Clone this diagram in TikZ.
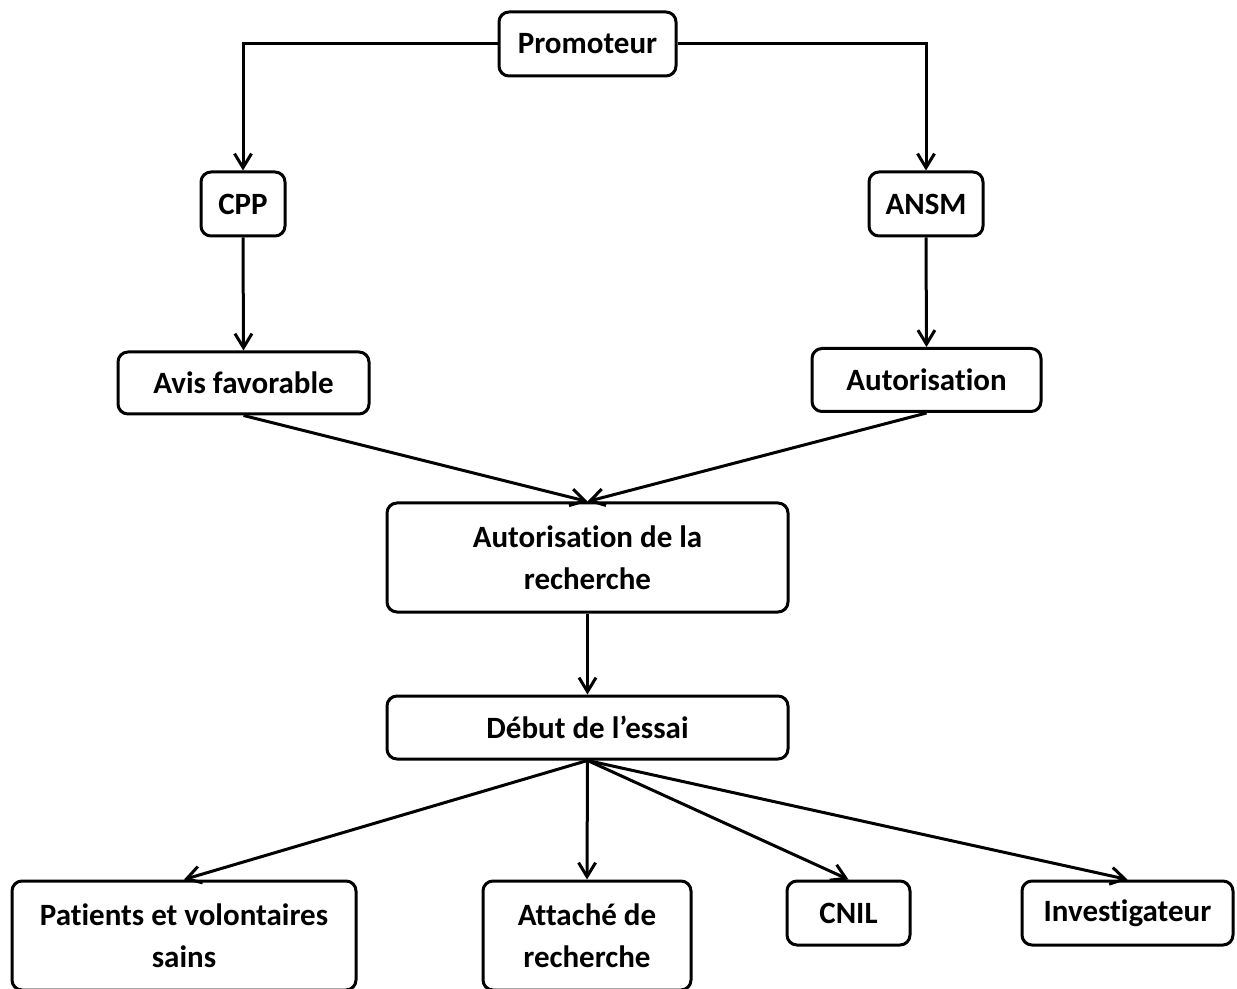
\documentclass[tikz,border=0pt]{standalone}
\usepackage{fontspec}
\setmainfont{Carlito}[Ligatures={NoCommon}]
\usetikzlibrary{arrows.meta}
\begin{document}
\begin{tikzpicture}[x=0.5pt,y=-0.5pt,
  box/.style={draw, line width=1.5pt, rounded corners=5pt, align=center,
    font=\fontsize{15.5}{21}\selectfont\bfseries, inner sep=0pt},
  arr/.style={line width=1.5pt, -{Straight Barb[length=7pt,width=8.5pt,line width=1.5pt]}}]
\useasboundingbox (0,0) rectangle (1237,989);
\node[box, minimum width=88.5pt, minimum height=32pt] (prom) at (587.5,44) {Promoteur};
\node[box, minimum width=42pt, minimum height=32pt] (cpp) at (243,204) {CPP};
\node[box, minimum width=57pt, minimum height=32pt] (ansm) at (926,204) {ANSM};
\node[box, minimum width=125.5pt, minimum height=31pt] (avis) at (243.5,383) {Avis favorable};
\node[box, minimum width=114.5pt, minimum height=31.5pt] (auto) at (926.5,380) {Autorisation};
\node[box, minimum width=200.5pt, minimum height=54.5pt] (rech) at (587.5,557.5) {Autorisation de la\\recherche};
\node[box, minimum width=200.5pt, minimum height=31.5pt] (deb) at (587.5,727.5) {Début de l’essai};
\node[box, minimum width=172pt, minimum height=54.5pt] (pat) at (184,935.5) {Patients et volontaires\\sains};
\node[box, minimum width=104pt, minimum height=54.5pt] (att) at (587,935.5) {Attaché de\\recherche};
\node[box, minimum width=61.5pt, minimum height=32pt] (cnil) at (848.5,913) {CNIL};
\node[box, minimum width=105.5pt, minimum height=32pt] (inv) at (1127.5,913) {Investigateur};

\draw[arr] (prom.west) -| (cpp.north);
\draw[arr] (prom.east) -| (ansm.north);
\draw[arr] (cpp.south) -- (avis.north);
\draw[arr] (ansm.south) -- (auto.north);
\draw[arr] (avis.south) -- (rech.north);
\draw[arr] (auto.south) -- (rech.north);
\draw[arr] (rech.south) -- (deb.north);
\draw[arr] (deb.south) -- (pat.north);
\draw[arr] (deb.south) -- (att.north);
\draw[arr] (deb.south) -- (cnil.north);
\draw[arr] (deb.south) -- (inv.north);
\end{tikzpicture}
\end{document}
